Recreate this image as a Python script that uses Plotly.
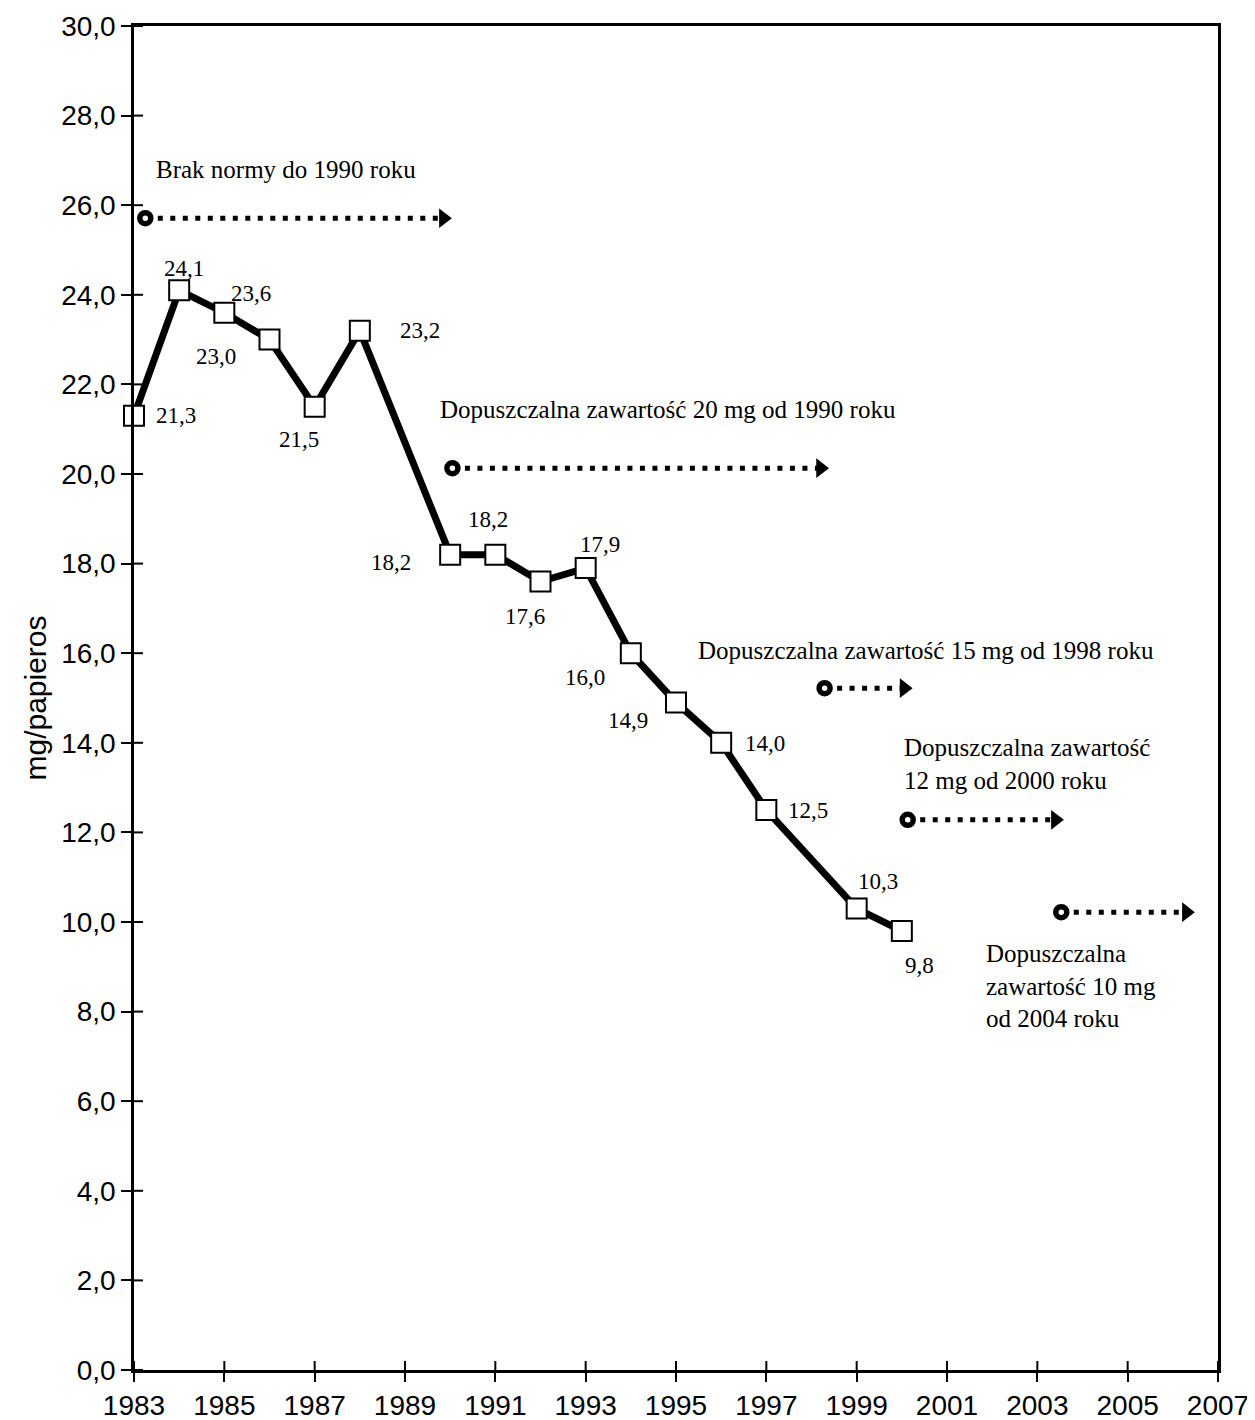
import plotly.graph_objects as go

years = [1983, 1984, 1985, 1986, 1987, 1988, 1990, 1991, 1992, 1993, 1994, 1995, 1996, 1997, 1999, 2000]
values = [21.3, 24.1, 23.6, 23.0, 21.5, 23.2, 18.2, 18.2, 17.6, 17.9, 16.0, 14.9, 14.0, 12.5, 10.3, 9.8]
value_labels = ["21,3", "24,1", "23,6", "23,0", "21,5", "23,2", "18,2", "18,2", "17,6", "17,9",
                "16,0", "14,9", "14,0", "12,5", "10,3", "9,8"]
# label offsets in px (style only)
label_dx = [42, 5, 27, -54, -16, 60, -59, -7, -16, 14, -46, -48, 44, 42, 21, 18]
label_dy = [0, 22, 19, -17, -33, 0, -8, 35, -35, 24, -24, -18, -1, 0, 27, -35]

x_ticks = list(range(1983, 2008, 2))
y_ticks = [i * 2.0 for i in range(16)]

# norm arrows: start x, end x, y level
norm_start = [1983.25, 1990.05, 1998.29, 2000.13, 2003.53]
norm_end = [1989.85, 1998.2, 2000.05, 2003.4, 2006.3]
norm_level = [25.71, 20.13, 15.22, 12.28, 10.22]
norm_texts = [
    "Brak normy do 1990 roku",
    "Dopuszczalna zawartość 20 mg od 1990 roku",
    "Dopuszczalna zawartość 15 mg od 1998 roku",
    "Dopuszczalna zawartość<br>12 mg od 2000 roku",
    "Dopuszczalna<br>zawartość 10 mg<br>od 2004 roku",
]
norm_text_x = [1983.44, 1989.72, 1995.44, 2000.0, 2001.83]
norm_text_y = [26.8, 21.43, 16.07, 13.53, 8.57]

serif = "Liberation Serif"
sans = "Liberation Sans"

PLOT_W, PLOT_H = 1086, 1344  # plot area size in px (for inner tick length)
INNER = 9

fig = go.Figure()

for i in range(len(norm_start)):
    fig.add_trace(go.Scatter(
        x=[norm_start[i], norm_end[i]], y=[norm_level[i], norm_level[i]],
        mode="lines", line=dict(color="black", width=5, dash="5px,7.5px"),
        showlegend=False, hoverinfo="skip", cliponaxis=False))
    fig.add_trace(go.Scatter(
        x=[norm_end[i]], y=[norm_level[i]], mode="markers",
        marker=dict(symbol="triangle-right", size=17, color="black"),
        showlegend=False, hoverinfo="skip", cliponaxis=False))
    fig.add_trace(go.Scatter(
        x=[norm_start[i]], y=[norm_level[i]], mode="markers",
        marker=dict(symbol="circle", size=11, color="white", line=dict(color="black", width=5.5)),
        showlegend=False, hoverinfo="skip", cliponaxis=False))
    fig.add_annotation(x=norm_text_x[i], y=norm_text_y[i], text=norm_texts[i],
                       showarrow=False, xanchor="left", yanchor="middle", align="left",
                       font=dict(family=serif, size=25, color="black"))

fig.add_trace(go.Scatter(
    x=years, y=values, mode="lines+markers",
    line=dict(color="black", width=7),
    marker=dict(symbol="square", size=20, color="white", line=dict(color="black", width=2)),
    showlegend=False, cliponaxis=False))

for xv, yv, t, dx, dy in zip(years, values, value_labels, label_dx, label_dy):
    fig.add_annotation(x=xv, y=yv, text=t, showarrow=False, xshift=dx, yshift=dy,
                       font=dict(family=serif, size=23, color="black"))

# inner halves of the crossing tick marks
for tv in y_ticks:
    fig.add_shape(type="line", xref="x domain", yref="y", x0=0, x1=INNER / PLOT_W,
                  y0=tv, y1=tv, line=dict(color="black", width=2), layer="above")
for tv in x_ticks:
    fig.add_shape(type="line", xref="x", yref="y domain", x0=tv, x1=tv,
                  y0=0, y1=INNER / PLOT_H, line=dict(color="black", width=2), layer="above")

fig.update_layout(
    width=1255, height=1420,
    margin=dict(l=126, r=45, t=18, b=58, autoexpand=False),
    plot_bgcolor="white", paper_bgcolor="white",
    separators=",.",
    xaxis=dict(range=[1983, 2007], tickmode="array", tickvals=x_ticks,
               ticks="outside", ticklen=9, tickwidth=2, tickcolor="black",
               showline=True, linecolor="black", linewidth=2.5, mirror=True,
               showgrid=False, zeroline=False, automargin=False,
               tickfont=dict(family=sans, size=28, color="black")),
    yaxis=dict(range=[0, 30], tickmode="array", tickvals=y_ticks, tickformat=".1f",
               ticks="outside", ticklen=10, tickwidth=2, tickcolor="black",
               showline=True, linecolor="black", linewidth=2.5, mirror=True,
               showgrid=False, zeroline=False, automargin=False,
               title=dict(text="mg/papieros", font=dict(family=sans, size=30, color="black"), standoff=6),
               tickfont=dict(family=sans, size=28, color="black")),
)

fig.write_html("out.html")
